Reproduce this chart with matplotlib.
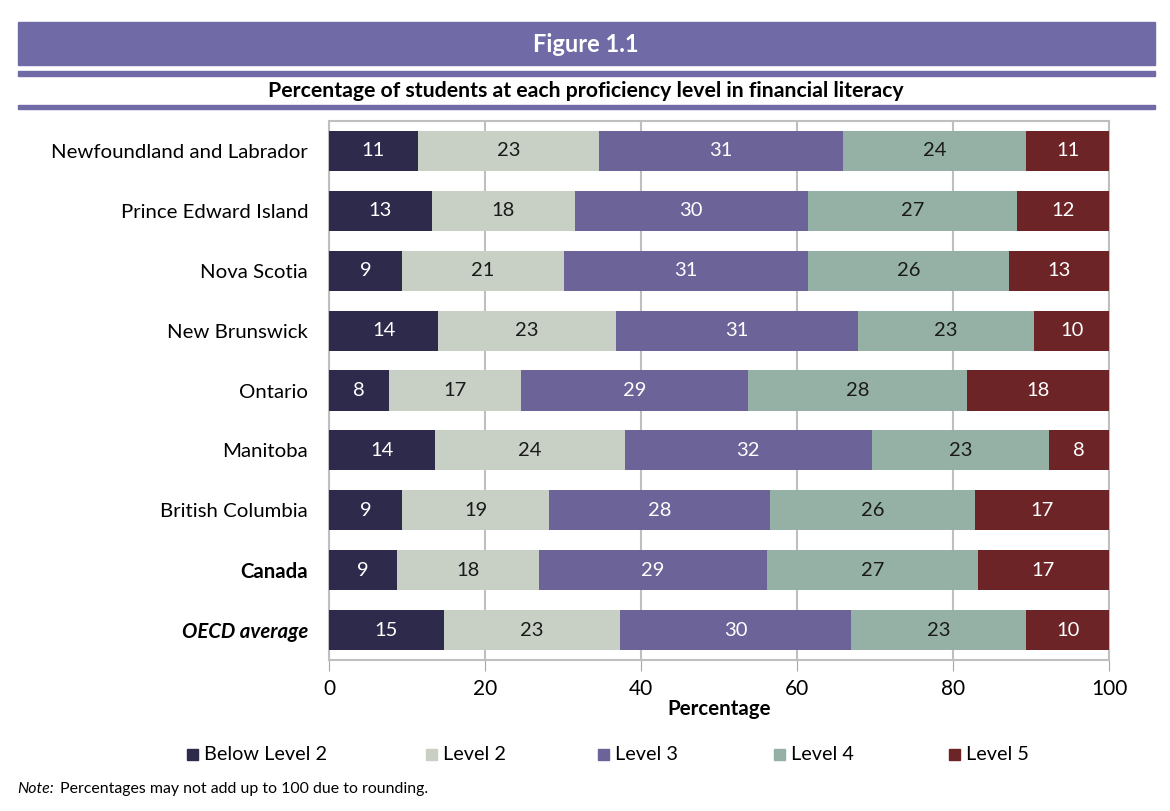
import numpy as np
import matplotlib
matplotlib.use('Agg')
import matplotlib.pyplot as plt
from matplotlib.patches import Rectangle

plt.rcParams['font.family'] = ['Lato', 'DejaVu Sans']

# provinces, top to bottom
regions = ['Newfoundland and Labrador', 'Prince Edward Island', 'Nova Scotia',
           'New Brunswick', 'Ontario', 'Manitoba', 'British Columbia',
           'Canada', 'OECD average']
levels = ['Below Level 2', 'Level 2', 'Level 3', 'Level 4', 'Level 5']

# segment widths (unrounded)
below2 = [11.4, 13.2, 9.4, 14.0, 7.7, 13.6, 9.4, 8.7, 14.7]
level2 = [23.2, 18.3, 20.7, 22.8, 16.9, 24.3, 18.8, 18.2, 22.6]
level3 = [31.3, 29.9, 31.3, 31.0, 29.1, 31.7, 28.3, 29.3, 29.6]
level4 = [23.5, 26.8, 25.8, 22.6, 28.1, 22.7, 26.3, 27.0, 22.5]
level5 = [10.6, 11.8, 12.8, 9.6, 18.2, 7.7, 17.2, 16.8, 10.6]

# printed labels (rounded)
lab_below2 = [11, 13, 9, 14, 8, 14, 9, 9, 15]
lab_level2 = [23, 18, 21, 23, 17, 24, 19, 18, 23]
lab_level3 = [31, 30, 31, 31, 29, 32, 28, 29, 30]
lab_level4 = [24, 27, 26, 23, 28, 23, 26, 27, 23]
lab_level5 = [11, 12, 13, 10, 18, 8, 17, 17, 10]

colors = ['#2d2a4b', '#c8d0c6', '#6c6498', '#95b1a6', '#6d2426']
text_colors = ['white', '#1a1a1a', 'white', '#1a1a1a', 'white']
header_col = '#706aa6'

series = [below2, level2, level3, level4, level5]
labels = [lab_below2, lab_level2, lab_level3, lab_level4, lab_level5]

fig = plt.figure(figsize=(11.7, 8.11), dpi=100)

# header band and rules
fig.patches.append(Rectangle((18/1170, 1-65/811), 1137/1170, 43/811,
                             transform=fig.transFigure, color=header_col))
fig.patches.append(Rectangle((18/1170, 1-76/811), 1137/1170, 5/811,
                             transform=fig.transFigure, color=header_col))
fig.patches.append(Rectangle((18/1170, 1-109/811), 1137/1170, 4/811,
                             transform=fig.transFigure, color=header_col))
fig.text(586/1170, 1-44/811, 'Figure 1.1', color='white', fontsize=17,
         fontweight='bold', ha='center', va='center')
fig.text(586/1170, 1-91/811,
         'Percentage of students at each proficiency level in financial literacy',
         fontsize=15.3, fontweight='bold', ha='center', va='center')

ax = fig.add_axes([329/1170, 1-660/811, 780/1170, 539/811])
y = np.arange(len(regions))
left = np.zeros(len(regions))
for vals, labs, c, tc, name in zip(series, labels, colors, text_colors, levels):
    vals = np.array(vals)
    ax.barh(y, vals, left=left, height=0.67, color=c, label=name, zorder=3)
    for yi, (l, v, t) in enumerate(zip(left, vals, labs)):
        ax.text(l + v/2, yi, str(t), ha='center', va='center', color=tc,
                fontsize=14.5, zorder=4)
    left += vals

ax.set_xlim(0, 100)
ax.set_ylim(len(regions) - 0.5, -0.5)
ax.set_xticks(range(0, 101, 20))
ax.set_yticks(y)
ax.set_yticklabels(regions, fontsize=14.7)
ax.tick_params(axis='y', length=0, pad=15)
ax.tick_params(axis='x', length=8, color='#a6a6a6', labelsize=15, pad=6)
for lbl in ax.get_yticklabels():
    if lbl.get_text() == 'Canada':
        lbl.set_fontweight('bold')
    if lbl.get_text() == 'OECD average':
        lbl.set_fontweight('bold')
        lbl.set_fontstyle('italic')
ax.grid(axis='x', color='#bfbfbf', linewidth=1.5, zorder=0)
for s in ax.spines.values():
    s.set_color('#bfbfbf')
    s.set_linewidth(1.5)
ax.set_xlabel('Percentage', fontsize=14.8, fontweight='bold', labelpad=0)

# legend placed by hand like the original
leg_x = [187, 426, 598, 774, 949]
for lx, c, name in zip(leg_x, colors, levels):
    fig.patches.append(Rectangle((lx/1170, 1-760/811), 11/1170, 11/811,
                                 transform=fig.transFigure, color=c))
    fig.text((lx + 17)/1170, 1-754/811, name, fontsize=14.3, va='center')

fig.text(17/1170, 1-789/811, 'Note:', fontsize=11.4, style='italic', va='center')
fig.text(60/1170, 1-789/811, 'Percentages may not add up to 100 due to rounding.',
         fontsize=11.4, va='center')

fig.savefig('out.png', dpi=100)
